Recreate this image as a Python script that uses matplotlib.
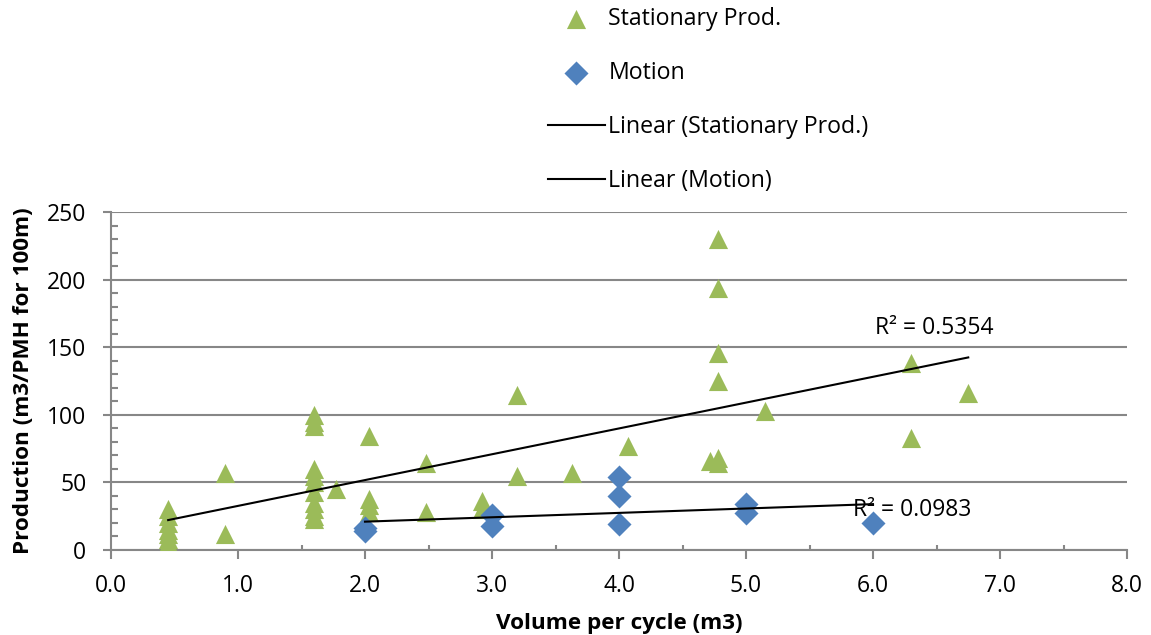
import matplotlib.pyplot as plt
import numpy as np
from matplotlib.ticker import MultipleLocator, FormatStrFormatter

plt.rcParams['font.family'] = ['Open Sans', 'DejaVu Sans']

# stationary production samples
stat_x = [0.45, 0.45, 0.45, 0.45, 0.45, 0.45, 0.45, 0.45,
          0.9, 0.9,
          1.6, 1.6, 1.6, 1.6, 1.6, 1.6, 1.6, 1.6, 1.6, 1.6, 1.6,
          1.77,
          2.03, 2.03, 2.03, 2.03,
          2.48, 2.48,
          2.92, 2.92,
          3.2, 3.2,
          3.63,
          4.07,
          4.72,
          4.78, 4.78, 4.78, 4.78, 4.78, 4.78,
          5.15,
          6.3, 6.3,
          6.75]
stat_y = [30, 25, 20, 15, 12, 8, 5, 3,
          57, 12,
          100, 95, 92, 60, 55, 50, 43, 35, 30, 25, 23,
          45,
          84, 38, 33, 28,
          64, 28,
          36, 30,
          115, 55,
          57,
          77,
          66,
          230, 194, 146, 125, 68, 64,
          103,
          138, 83,
          116]

# samples taken while moving
mot_x = [2.0, 2.0, 3.0, 3.0, 4.0, 4.0, 4.0, 5.0, 5.0, 6.0]
mot_y = [16, 14, 26, 18, 54, 40, 19, 34, 27, 20]

r2_labels = ["R\u00b2 = 0.5354", "R\u00b2 = 0.0983"]

green = '#9BBB59'
blue = '#4F81BD'
grid = '#878787'

fig = plt.figure(figsize=(11.51, 6.35), dpi=100)
ax = fig.add_axes([111 / 1151, 1 - 550 / 635, (1127 - 111) / 1151, (550 - 212) / 635])

ax.scatter(stat_x, stat_y, marker='^', s=190, color=green, linewidths=0, zorder=3,
           label='Stationary Prod.')
ax.scatter(mot_x, mot_y, marker='D', s=150, color=blue, linewidths=0, zorder=3,
           label='Motion')

# least squares trend lines over each series' range
for xs, ys, lab in [(stat_x, stat_y, 'Linear (Stationary Prod.)'),
                    (mot_x, mot_y, 'Linear (Motion)')]:
    k, b = np.polyfit(xs, ys, 1)
    xx = np.array([min(xs), max(xs)])
    ax.plot(xx, k * xx + b, color='black', lw=1.5, zorder=4, label=lab)

ax.text(6.95, 164, r2_labels[0], fontsize=16.5, ha='right', va='center')
ax.text(5.84, 29.5, r2_labels[1], fontsize=16.5, ha='left', va='center')

ax.set_xlim(0, 8)
ax.set_ylim(0, 250)
ax.xaxis.set_major_locator(MultipleLocator(1))
ax.xaxis.set_minor_locator(MultipleLocator(0.5))
ax.yaxis.set_major_locator(MultipleLocator(50))
ax.yaxis.set_minor_locator(MultipleLocator(10))
ax.xaxis.set_major_formatter(FormatStrFormatter('%.1f'))

ax.grid(axis='y', which='major', color=grid, lw=1.5, zorder=0)
for s in ['top', 'right']:
    ax.spines[s].set_visible(False)
for s in ['left', 'bottom']:
    ax.spines[s].set_color(grid)
    ax.spines[s].set_linewidth(1.5)
ax.tick_params(which='both', width=1.5, color=grid, labelsize=16.5)
ax.tick_params(axis='x', which='major', direction='out', length=6.5, pad=10.5)
ax.tick_params(axis='x', which='minor', direction='in', length=3.6)
ax.tick_params(axis='y', which='major', direction='out', length=5.8, pad=12)
ax.tick_params(axis='y', which='minor', direction='in', length=5)

ax.set_xlabel('Volume per cycle (m3)', fontsize=16.2, fontweight='bold', va='center')
ax.set_ylabel('Production (m3/PMH for 100m)', fontsize=16.2, fontweight='bold', va='center')
ax.xaxis.set_label_coords(0.5, (550 - 623) / 338)
ax.yaxis.set_label_coords((24 - 111) / 1016, 0.5)

ax.legend(loc='upper left', bbox_to_anchor=(548 / 1151, 1 - 7 / 635), bbox_transform=fig.transFigure,
          frameon=False, fontsize=16.7, labelspacing=1.3, handlelength=2.45,
          handletextpad=0.15, borderaxespad=0, borderpad=0)

fig.savefig('out.png', dpi=100)
